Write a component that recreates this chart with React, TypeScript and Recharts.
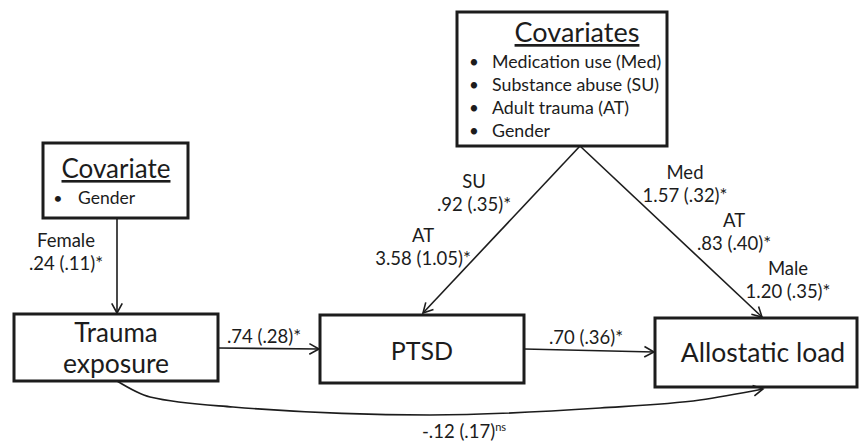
import React from "react";
import { ScatterChart, Scatter, XAxis, YAxis, ReferenceArea, ReferenceLine } from "recharts";

const W = 861;
const H = 443;
const FONT = "Lato, 'Open Sans', sans-serif";
const INK = "#1c1c1c";

// model content
const variables = ["Trauma", "exposure", "PTSD", "Allostatic load"];
const covariateTitles = ["Covariates", "Covariate"];
const covariateItems = ["Medication use (Med)", "Substance abuse (SU)", "Adult trauma (AT)", "Gender"];
const genderItems = ["Gender"];

// path estimates: name, b, (se), significance
const pathNames = ["Female", "SU", "AT", "Med", "AT", "Male", "", "", ""];
const estimates = [".24", ".92", "3.58", "1.57", ".83", "1.20", ".74", ".70", "-.12"];
const stdErrors = [".11", ".35", "1.05", ".32", ".40", ".35", ".28", ".36", ".17"];
const signif = ["*", "*", "*", "*", "*", "*", "*", "*", "ns"];

// layout (diagram units = axis units)
const boxes = [
  { x1: 457, x2: 667, y1: 12, y2: 146 },
  { x1: 43, x2: 188, y1: 143, y2: 218 },
  { x1: 14, x2: 218, y1: 314, y2: 381 },
  { x1: 320, x2: 524, y1: 315, y2: 383 },
  { x1: 655, x2: 857, y1: 318, y2: 387 },
];

const edges = [
  { x1: 117, y1: 218, x2: 117, y2: 313 },
  { x1: 218, y1: 348, x2: 319, y2: 349 },
  { x1: 524, y1: 349, x2: 654, y2: 352 },
  { x1: 580, y1: 146, x2: 423, y2: 313 },
  { x1: 580, y1: 146, x2: 762, y2: 317 },
];

const curve = [
  { x: 117, y: 381 },
  { x: 150, y: 397 },
  { x: 233, y: 407 },
  { x: 430, y: 415 },
  { x: 600, y: 408 },
  { x: 700, y: 400 },
  { x: 763, y: 389 },
];

// where each estimate's name line / value line sit
const estimatePos = [
  { x: 66, y: 247, anchor: "middle" },
  { x: 474, y: 188, anchor: "middle" },
  { x: 423, y: 242, anchor: "middle" },
  { x: 685, y: 179, anchor: "middle" },
  { x: 734, y: 227, anchor: "middle" },
  { x: 788, y: 275, anchor: "middle" },
  { x: 264, y: 343, anchor: "middle" },
  { x: 586, y: 344, anchor: "middle" },
  { x: 422, y: 438, anchor: "start" },
];

const LABEL = 18.5;

const texts: any[] = [];
texts.push({ x: 577, y: 42, text: covariateTitles[0], size: 27, anchor: "middle", underline: true });
covariateItems.forEach((t, i) => {
  texts.push({ x: 474, y: 68 + i * 23, text: "•", size: 17, anchor: "middle" });
  texts.push({ x: 492, y: 68 + i * 23, text: t, size: 17.8, anchor: "start" });
});
texts.push({ x: 116, y: 178, text: covariateTitles[1], size: 26, anchor: "middle", underline: true });
genderItems.forEach((t) => {
  texts.push({ x: 58, y: 204, text: "•", size: 16, anchor: "middle" });
  texts.push({ x: 78, y: 204, text: t, size: 17.5, anchor: "start" });
});
texts.push({ x: 116, y: 342, text: variables[0], size: 26, anchor: "middle" });
texts.push({ x: 116, y: 373, text: variables[1], size: 26.5, anchor: "middle" });
texts.push({ x: 422, y: 360, text: variables[2], size: 25, anchor: "middle" });
texts.push({ x: 763, y: 362, text: variables[3], size: 26.5, anchor: "middle" });
estimates.forEach((b, i) => {
  const p = estimatePos[i];
  const hasName = pathNames[i] !== "";
  if (hasName) texts.push({ x: p.x, y: p.y, text: pathNames[i], size: LABEL, anchor: p.anchor });
  const star = signif[i] === "*";
  texts.push({
    x: p.x,
    y: hasName ? p.y + 23 : p.y,
    text: `${b} (${stdErrors[i]})${star ? "*" : ""}`,
    sup: star ? undefined : signif[i],
    size: LABEL,
    anchor: p.anchor,
  });
});

const heads = edges.map((e) => ({ x: e.x2, y: e.y2, angle: Math.atan2(e.y2 - e.y1, e.x2 - e.x1) }));
const n = curve.length;
heads.push({
  x: curve[n - 1].x,
  y: curve[n - 1].y,
  angle: Math.atan2(curve[n - 1].y - curve[n - 2].y, curve[n - 1].x - curve[n - 2].x),
});

const TextMark = (p: any) => {
  const d = p.payload;
  return (
    <text
      x={p.cx}
      y={p.cy}
      textAnchor={d.anchor}
      fontSize={d.size}
      fontFamily={FONT}
      fill={INK}
      textDecoration={d.underline ? "underline" : undefined}
    >
      {d.text}
      {d.sup ? (
        <tspan fontSize={d.size * 0.6} dy={-d.size * 0.4}>
          {d.sup}
        </tspan>
      ) : null}
    </text>
  );
};

const ArrowHead = (p: any) => {
  const a = p.payload.angle;
  const L = 11;
  const s = 0.5;
  const x = p.cx;
  const y = p.cy;
  const a1 = `${x - L * Math.cos(a - s)},${y - L * Math.sin(a - s)}`;
  const a2 = `${x - L * Math.cos(a + s)},${y - L * Math.sin(a + s)}`;
  return <polyline points={`${a1} ${x},${y} ${a2}`} fill="none" stroke={INK} strokeWidth={1.6} />;
};

export default function App() {
  return (
    <div style={{ position: "absolute", left: 0, top: 0, background: "#fff" }}>
      <ScatterChart width={W} height={H} margin={{ top: 0, right: 0, bottom: 0, left: 0 }}>
        <XAxis type="number" dataKey="x" domain={[0, W]} hide allowDataOverflow />
        <YAxis type="number" dataKey="y" domain={[0, H]} reversed hide allowDataOverflow />
        {boxes.map((b, i) => (
          <ReferenceArea
            key={`box-${i}`}
            x1={b.x1}
            x2={b.x2}
            y1={b.y1}
            y2={b.y2}
            fill="none"
            stroke={INK}
            strokeWidth={3}
            ifOverflow="visible"
          />
        ))}
        {edges.map((e, i) => (
          <ReferenceLine
            key={`edge-${i}`}
            segment={[
              { x: e.x1, y: e.y1 },
              { x: e.x2, y: e.y2 },
            ]}
            stroke={INK}
            strokeWidth={1.6}
            ifOverflow="visible"
          />
        ))}
        <Scatter
          data={curve}
          line={{ stroke: INK, strokeWidth: 1.6 }}
          lineJointType="monotoneX"
          shape={() => <g />}
          isAnimationActive={false}
        />
        <Scatter data={heads} shape={ArrowHead} isAnimationActive={false} />
        <Scatter data={texts} shape={TextMark} isAnimationActive={false} />
      </ScatterChart>
    </div>
  );
}
